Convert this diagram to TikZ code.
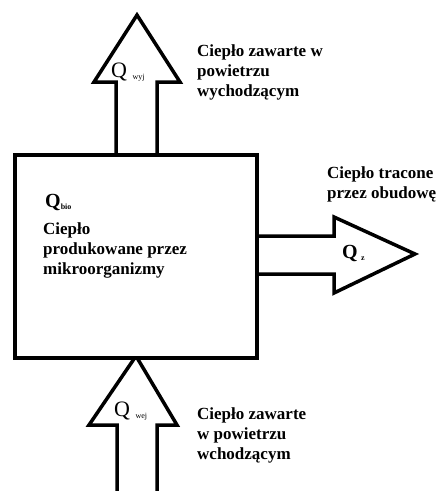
\documentclass[tikz,border=0pt]{standalone}
\usepackage{fontspec}
\setmainfont{Liberation Serif}
\usetikzlibrary{calc}
\begin{document}
\begin{tikzpicture}[x=1pt,y=-1pt,
  outline/.style={draw=black,line width=3.5pt,fill=white,line join=miter},
  lbl/.style={font=\bfseries\fontsize{17}{20}\selectfont,align=left,anchor=west,inner sep=0pt},
  qlbl/.style={font=\fontsize{22}{24}\selectfont,anchor=west,inner sep=0pt},
  qbold/.style={font=\bfseries\fontsize{20}{22}\selectfont,anchor=west,inner sep=0pt}]
\newcommand{\qsub}[1]{\raisebox{-2pt}{\fontsize{8}{9}\selectfont #1}}
\useasboundingbox (0,0) rectangle (440,491);
\fill[white] (0,0) rectangle (440,491);
% arrow tips
\coordinate (topTip) at (137,15);
\coordinate (rightTip) at (415,254);
\coordinate (botTip) at (136,356);
% top arrow (air out)
\draw[outline] (116,153) -- (116,82) -- (94,82) -- (topTip) -- (180,82) -- (157,82) -- (157,153);
% right arrow (loss through housing)
\draw[outline] (255,236) -- (334,236) -- (334,217) -- (rightTip) -- (334,293) -- (334,274) -- (255,274);
% bottom arrow (air in)
\draw[outline] (117,498) -- (117,425) -- (89,425) -- (botTip) -- (177,425) -- (157,425) -- (157,498);
% main box
\node[draw=black,line width=3.5pt,fill=white,minimum width=242pt,minimum height=203pt,
      anchor=north west,inner sep=0pt] (box) at (13,153) {};
% labels
\node[qlbl] (qwyj) at (111,72) {Q \qsub{wyj}};
\node[qlbl] (qwej) at (114,411) {Q \qsub{wej}};
\node[qbold] (qz) at (342,253) {Q\,\qsub{z}};
\node[qbold] (qbio) at (45,202) {Q\qsub{bio}};
\node[lbl] (tout) at (197,72) {Ciepło zawarte w\\powietrzu\\wychodzącym};
\node[lbl] (tloss) at (327,184) {Ciepło tracone\\przez obudowę};
\node[lbl] (tbio) at (43,250) {Ciepło\\produkowane przez\\mikroorganizmy};
\node[lbl] (tin) at (197,435) {Ciepło zawarte\\w powietrzu\\wchodzącym};
\end{tikzpicture}
\end{document}
